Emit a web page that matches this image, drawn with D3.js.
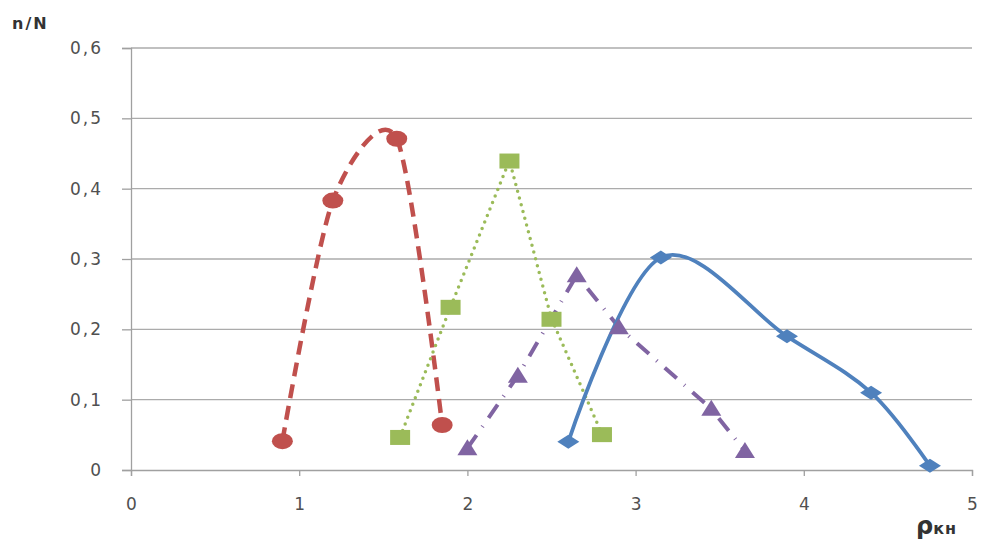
<!DOCTYPE html>
<html><head><meta charset="utf-8">
<script src="https://cdn.jsdelivr.net/npm/d3@7"></script>
<style>body{margin:0;background:#fff}svg{display:block}</style>
</head><body><svg id="c" width="982" height="544"></svg>
<script>
const xTicks = [0,1,2,3,4,5];
const yTicks = [0,0.1,0.2,0.3,0.4,0.5,0.6];
const yTickLabels = ["0","0,1","0,2","0,3","0,4","0,5","0,6"];
const redX = [0.9,1.2,1.58,1.85];
const redY = [0.041,0.383,0.471,0.064];
const greenX = [1.6,1.9,2.25,2.5,2.8];
const greenY = [0.047,0.232,0.44,0.215,0.051];
const purpleX = [2.0,2.3,2.65,2.9,3.45,3.65];
const purpleY = [0.031,0.134,0.277,0.203,0.087,0.027];
const blueX = [2.6,3.15,3.9,4.4,4.75];
const blueY = [0.04,0.302,0.19,0.11,0.006];

const svg = d3.select("#c");
const x = d3.scaleLinear().domain([0,5]).range([131,972]);
const y = d3.scaleLinear().domain([0,0.6]).range([470,48]);
const font = "'DejaVu Sans', 'Open Sans', sans-serif";

svg.append("g").selectAll("line").data(yTicks.slice(1)).join("line")
  .attr("x1",x(0)).attr("x2",x(5)).attr("y1",d=>y(d)).attr("y2",d=>y(d))
  .attr("stroke","#ababab").attr("stroke-width",1.3);

const yAxis = d3.axisLeft(y).tickValues(yTicks).tickSize(9).tickFormat((d,i)=>yTickLabels[i]);
const gy = svg.append("g").attr("transform",`translate(${x(0)},0)`).call(yAxis);
gy.select(".domain").attr("stroke","#a0a0a0").attr("stroke-width",1.3);
gy.selectAll(".tick line").attr("stroke","#a0a0a0").attr("stroke-width",1.3);
gy.selectAll(".tick text").attr("x",-28).attr("font-family",font).attr("font-size",17)
  .attr("letter-spacing",2).attr("fill","#505050");

const xAxis = d3.axisBottom(x).tickValues(xTicks).tickSize(6).tickFormat(d=>String(d));
const gx = svg.append("g").attr("transform",`translate(0,${y(0)})`).call(xAxis);
gx.select(".domain").attr("stroke","#a0a0a0").attr("stroke-width",1.3);
gx.selectAll(".tick line").attr("stroke","#a0a0a0").attr("stroke-width",1.3);
gx.selectAll(".tick text").attr("y",28).attr("font-family",font).attr("font-size",17).attr("fill","#505050");

function series(xs, ys, color, curve, dash, width, cap){
  const pts = xs.map((v,i)=>[x(v), y(ys[i])]);
  svg.append("path").datum(pts)
    .attr("d", d3.line().curve(curve))
    .attr("fill","none").attr("stroke",color).attr("stroke-width",width)
    .attr("stroke-dasharray",dash).attr("stroke-linecap",cap);
  return pts;
}
const red = series(redX, redY, "#C0504D", d3.curveCardinal.tension(0.2), "14,8", 4.5, "butt");
const green = series(greenX, greenY, "#9BBB59", d3.curveLinear, "0,7", 3.5, "round");
const purple = series(purpleX, purpleY, "#8064A2", d3.curveLinear, "16,10,1,10", 4, "butt");
const blue = series(blueX, blueY, "#4F81BD", d3.curveCatmullRom.alpha(0), null, 3.8, "round");

svg.append("g").selectAll("ellipse").data(red).join("ellipse")
  .attr("cx",d=>d[0]).attr("cy",d=>d[1]).attr("rx",10.5).attr("ry",8).attr("fill","#C0504D");
svg.append("g").selectAll("rect").data(green).join("rect")
  .attr("x",d=>d[0]-10).attr("y",d=>d[1]-7).attr("width",20).attr("height",15).attr("fill","#9BBB59");
svg.append("g").selectAll("path").data(purple).join("path")
  .attr("d",d=>`M${d[0]-10},${d[1]+7}L${d[0]},${d[1]-9}L${d[0]+10},${d[1]+7}Z`).attr("fill","#8064A2");
svg.append("g").selectAll("path").data(blue).join("path")
  .attr("d",d=>`M${d[0]-11},${d[1]}L${d[0]},${d[1]-7}L${d[0]+11},${d[1]}L${d[0]},${d[1]+7}Z`).attr("fill","#4F81BD");

svg.append("text").attr("x",12).attr("y",29).attr("font-family",font).attr("font-weight","bold")
  .attr("font-size",16).attr("letter-spacing",2).attr("fill","#333").text("n/N");
const t = svg.append("text").attr("x",916).attr("y",534).attr("font-family",font).attr("font-weight","bold").attr("fill","#333");
t.append("tspan").attr("font-size",24).text("ρ");
t.append("tspan").attr("font-size",16).attr("letter-spacing",1).text("кн");
</script></body></html>
